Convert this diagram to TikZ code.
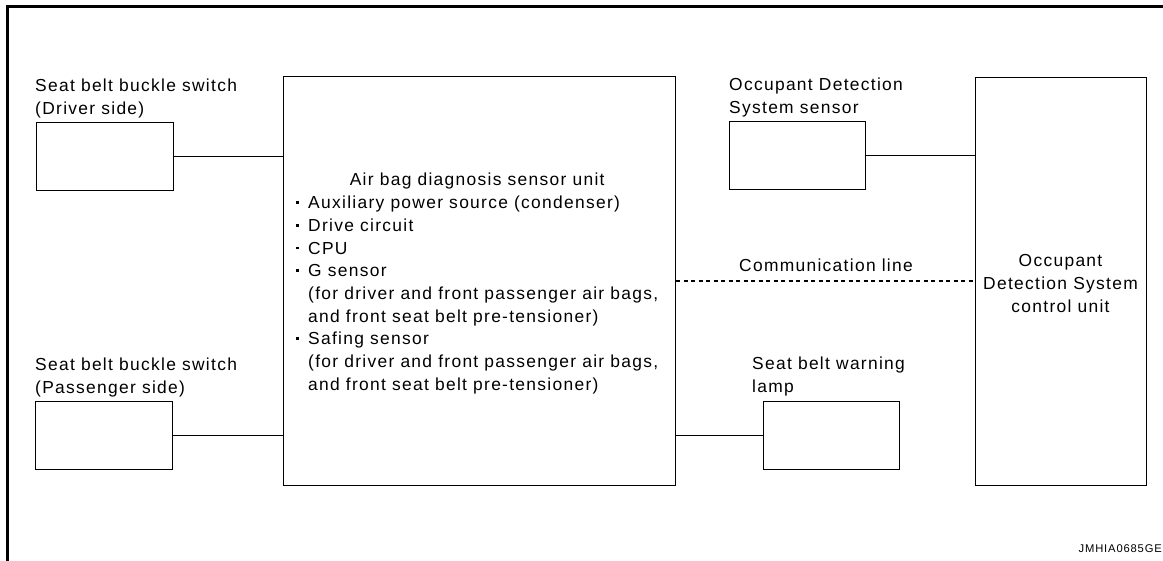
\documentclass[tikz,border=0pt]{standalone}
\usepackage{fontspec}
\setmainfont{Liberation Sans}[LetterSpace=7.5]
\newcommand\mylines[2][l]{\begin{tabular}[t]{@{}#1@{}}#2\end{tabular}}
\newcommand\blt{\makebox[12pt][l]{\raisebox{4.8pt}{\rule{2.6pt}{2.6pt}}}}
\begin{document}
\begin{tikzpicture}[x=1pt,y=-1pt,
  box/.style={draw, line width=1.2pt, inner sep=0pt, rectangle, anchor=north west},
  txt/.style={inner sep=0pt, font=\fontsize{17.4}{22.7}\selectfont},
  wire/.style={line width=1.2pt},
  frame/.style={line width=3pt}]
\useasboundingbox (0,0) rectangle (1163,561);
\clip (0,0) rectangle (1163,561);
% outer frame
\coordinate (fa) at (7.5,600);
\coordinate (fb) at (7.5,6.5);
\coordinate (fc) at (1200,6.5);
\draw[frame] (fa) -- (fb) -- (fc);
% boxes
\node[box, minimum width=137pt, minimum height=68pt] (drv) at (36,122) {};
\node[box, minimum width=137pt, minimum height=68pt] (pas) at (35,401) {};
\node[box, minimum width=392pt, minimum height=409pt] (main) at (283,76) {};
\node[box, minimum width=136pt, minimum height=68pt] (ods) at (729,121) {};
\node[box, minimum width=136pt, minimum height=68pt] (lamp) at (763,401) {};
\node[box, minimum width=171pt, minimum height=408pt] (ctrl) at (975,77) {};
% labels
\node[txt, anchor=base west] (ldrv) at (35,92) {\mylines{Seat belt buckle switch\\(Driver side)}};
\node[txt, anchor=base west] (lpas) at (35,370.5) {\mylines{Seat belt buckle switch\\(Passenger side)}};
\node[txt, anchor=base west] (lods) at (729,91) {\mylines{Occupant Detection\\System sensor}};
\node[txt, anchor=base west] (llamp) at (752,370) {\mylines{Seat belt warning\\lamp}};
\node[txt, anchor=base] (lctrl) at (1060.5,267) {\mylines[c]{Occupant\\Detection System\\control unit}};
\node[txt, anchor=base] (lcom) at (826,272) {Communication line};
\node[txt, anchor=base west] (lmain) at (296,186) {\begin{tabular}[t]{@{}l@{}l@{}}
\multicolumn{2}{c}{Air bag diagnosis sensor unit}\\
\blt & Auxiliary power source (condenser)\\
\blt & Drive circuit\\
\blt & CPU\\
\blt & G sensor\\
 & (for driver and front passenger air bags,\\
 & and front seat belt pre-tensioner)\\
\blt & Safing sensor\\
 & (for driver and front passenger air bags,\\
 & and front seat belt pre-tensioner)
\end{tabular}};
\node[inner sep=0pt, anchor=base east, font=\fontsize{11.2}{12}\selectfont] (code) at (1162,552) {JMHIA0685GE};
% connectors
\draw[wire] (drv.east) -- (drv.east -| main.west);
\draw[wire] (pas.east) -- (pas.east -| main.west);
\draw[wire] (ods.east) -- (ods.east -| ctrl.west);
\draw[wire] (lamp.west) -- (lamp.west -| main.east);
\coordinate (cm) at (700,281);
\draw[wire, dash pattern=on 4pt off 3.5pt] (main.east |- cm) -- (ctrl.west |- cm);
\end{tikzpicture}
\end{document}
